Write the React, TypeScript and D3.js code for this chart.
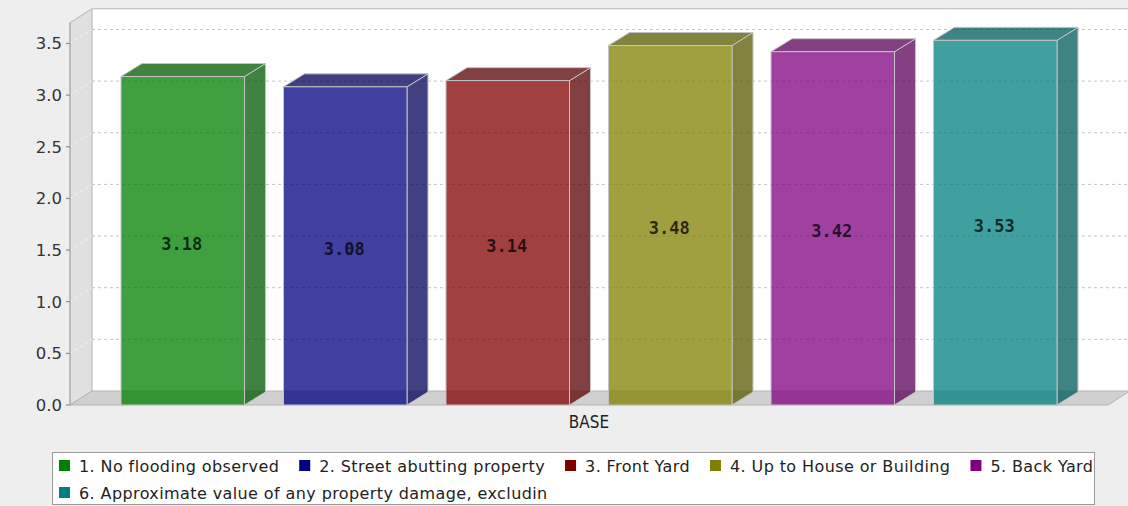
import React, { useEffect, useRef } from 'react';
import * as d3 from 'd3';

// Data
const categories = ['BASE'];
const seriesNames = [
  '1. No flooding observed',
  '2. Street abutting property',
  '3. Front Yard',
  '4. Up to House or Building',
  '5. Back Yard',
  '6. Approximate value of any property damage, excludin',
];
const seriesValues = [3.18, 3.08, 3.14, 3.48, 3.42, 3.53];
const seriesColors = ['#008000', '#000080', '#800000', '#808000', '#800080', '#008080'];
const yTicks = [0, 0.5, 1.0, 1.5, 2.0, 2.5, 3.0, 3.5];
const yMax = 3.7;

const W = 1128;
const H = 506;

// java.awt.Color.darker()
const darker = (c: string) => {
  const r = d3.rgb(c);
  return d3.rgb(Math.floor(r.r * 0.7), Math.floor(r.g * 0.7), Math.floor(r.b * 0.7)).formatHex();
};

const App: React.FC = () => {
  const svgRef = useRef<SVGSVGElement>(null);

  useEffect(() => {
    if (!svgRef.current) return;
    const svg = d3.select(svgRef.current);
    svg.selectAll('*').remove();

    // plot geometry (front face of the 3D box)
    const left = 70;
    const right = 1108;
    const bottom = 405;
    const wdx = 22; // wall depth offset
    const wdy = 14;
    const bdx = 21; // bar depth offset
    const bdy = 13;

    const y = d3.scaleLinear().domain([0, yMax]).range([bottom, bottom - yMax * 103.3]);
    const top = y(yMax);

    const x0 = d3.scaleBand<string>().domain(categories).range([left, right]).paddingOuter(0.0545);
    const x1 = d3.scaleBand<number>()
      .domain(seriesValues.map((_, i) => i))
      .range([0, x0.bandwidth()])
      .paddingInner(0.24);

    // background
    svg.append('rect').attr('width', W).attr('height', H).attr('fill', '#eeeeee');

    // back wall
    svg.append('rect')
      .attr('x', left + wdx).attr('y', top - wdy)
      .attr('width', right - left + 40).attr('height', bottom - top)
      .attr('fill', '#ffffff');
    svg.append('line')
      .attr('x1', left + wdx).attr('x2', W)
      .attr('y1', top - wdy).attr('y2', top - wdy)
      .attr('stroke', '#b8b8b8');

    // gridlines on back wall
    svg.append('g').selectAll('line')
      .data(yTicks.filter(d => d > 0))
      .enter().append('line')
      .attr('x1', left + wdx).attr('x2', W)
      .attr('y1', d => y(d) - wdy).attr('y2', d => y(d) - wdy)
      .attr('stroke', '#c4c4c4')
      .attr('stroke-dasharray', '3,3');

    // left wall
    svg.append('polygon')
      .attr('points', [
        [left, bottom], [left, top], [left + wdx, top - wdy], [left + wdx, bottom - wdy],
      ].map(p => p.join(',')).join(' '))
      .attr('fill', '#e0e0e0')
      .attr('stroke', '#b4b4b4');

    svg.append('g').selectAll('line')
      .data(yTicks.filter(d => d > 0))
      .enter().append('line')
      .attr('x1', left).attr('x2', left + wdx)
      .attr('y1', d => y(d)).attr('y2', d => y(d) - wdy)
      .attr('stroke', '#f4f4f4')
      .attr('stroke-dasharray', '3,3');

    // floor
    svg.append('polygon')
      .attr('points', [
        [left, bottom], [left + wdx, bottom - wdy], [right + wdx, bottom - wdy], [right, bottom],
      ].map(p => p.join(',')).join(' '))
      .attr('fill', '#d0d0d0')
      .attr('stroke', '#b4b4b4');

    // bars
    const bars = svg.append('g');
    seriesValues.forEach((v, i) => {
      const fx = (x0(categories[0]) as number) + (x1(i) as number);
      const fw = x1.bandwidth();
      const fy = y(v);
      const fb = y(0);
      const c = seriesColors[i];
      const dk = darker(c);
      const g = bars.append('g').attr('stroke', '#c4c4c4').attr('stroke-width', 1);
      g.append('polygon')
        .attr('points', [[fx + fw, fy], [fx + fw + bdx, fy - bdy], [fx + fw + bdx, fb - bdy], [fx + fw, fb]]
          .map(p => p.join(',')).join(' '))
        .attr('fill', dk).attr('fill-opacity', 0.75);
      g.append('polygon')
        .attr('points', [[fx, fy], [fx + bdx, fy - bdy], [fx + fw + bdx, fy - bdy], [fx + fw, fy]]
          .map(p => p.join(',')).join(' '))
        .attr('fill', dk).attr('fill-opacity', 0.75);
      g.append('rect')
        .attr('x', fx).attr('y', fy).attr('width', fw).attr('height', fb - fy)
        .attr('fill', c).attr('fill-opacity', 0.75);

      bars.append('text')
        .attr('x', fx + fw / 2 - 1)
        .attr('y', (fy + fb) / 2 + 9)
        .attr('text-anchor', 'middle')
        .attr('font-family', '"DejaVu Sans Mono", monospace')
        .attr('font-weight', 'bold')
        .attr('font-size', 17)
        .attr('fill', '#000')
        .attr('fill-opacity', 0.75)
        .text(v.toFixed(2));
    });

    // y axis
    const axis = svg.append('g');
    axis.append('line')
      .attr('x1', left).attr('x2', left)
      .attr('y1', top).attr('y2', bottom)
      .attr('stroke', '#a8a8a8');
    const tick = axis.selectAll('g.tick').data(yTicks).enter().append('g').attr('class', 'tick');
    tick.append('line')
      .attr('x1', left - 4).attr('x2', left)
      .attr('y1', d => y(d)).attr('y2', d => y(d))
      .attr('stroke', '#808080');
    tick.append('text')
      .attr('x', left - 8)
      .attr('y', d => y(d) + 6)
      .attr('text-anchor', 'end')
      .attr('font-family', '"DejaVu Sans", sans-serif')
      .attr('font-size', 16.5)
      .attr('fill', '#333')
      .text(d => d.toFixed(1));

    // category label
    svg.append('text')
      .attr('x', (x0(categories[0]) as number) + x0.bandwidth() / 2)
      .attr('y', 428)
      .attr('text-anchor', 'middle')
      .attr('font-family', '"DejaVu Sans Condensed", "DejaVu Sans", sans-serif')
      .attr('font-size', 17)
      .attr('fill', '#222')
      .text(categories[0]);

    // legend
    const lg = svg.append('g');
    const lx = 52;
    const ly = 452;
    const lw = 1042;
    lg.append('rect')
      .attr('x', lx + 0.5).attr('y', ly + 0.5).attr('width', lw).attr('height', 52)
      .attr('fill', '#ffffff').attr('stroke', '#9a9a9a');
    let cx = 59;
    let row = 0;
    const rowH = 27;
    seriesNames.forEach((name, i) => {
      const item = lg.append('g');
      const t = item.append('text')
        .attr('font-family', '"DejaVu Sans", sans-serif')
        .attr('font-size', 16)
        .attr('letter-spacing', 0.4)
        .attr('fill', '#222')
        .text(name);
      const tw = (t.node() as SVGTextElement).getComputedTextLength();
      if (cx + 20 + tw > lx + lw) {
        row += 1;
        cx = 59;
      }
      const base = 472 + row * rowH;
      item.append('rect')
        .attr('x', cx).attr('y', base - 12).attr('width', 11).attr('height', 11)
        .attr('fill', seriesColors[i]);
      t.attr('x', cx + 20).attr('y', base);
      cx += 20 + tw + 20;
    });
  }, []);

  return (
    <svg
      ref={svgRef}
      width={W}
      height={H}
      style={{ position: 'absolute', left: 0, top: 0, display: 'block' }}
    />
  );
};

export default App;
